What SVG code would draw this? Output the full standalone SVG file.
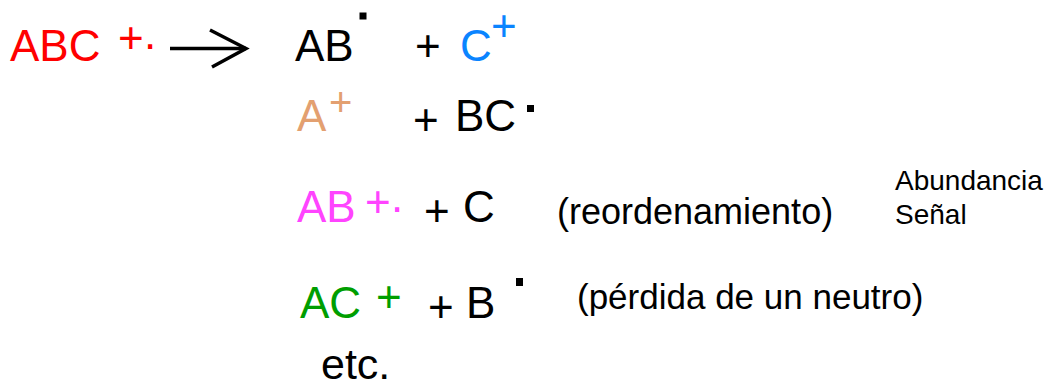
<svg xmlns="http://www.w3.org/2000/svg" width="1048" height="389" viewBox="0 0 1048 389">
<style>
text{font-family:"Liberation Sans",Arial,sans-serif;font-size:44px;fill:#000}
.red{fill:#FF0000}.blue{fill:#0A84FF}.tan{fill:#E3A070}.mag{fill:#FF44FF}.grn{fill:#009E00}
.sm{font-size:40px}.note{font-size:36px}.note2{font-size:35px}.lab{font-size:28px}.etc{font-size:43px}
.dot{fill:#000}
</style>
<rect width="1048" height="389" fill="#fff"/>
<g id="reactant">
<text x="10" y="61" class="red">ABC</text>
<text x="118" y="53" class="red">+</text>
<text x="144" y="49" class="red">.</text>
</g>
<g id="connectors">
<line x1="170" y1="48.5" x2="246" y2="48.5" stroke="#000" stroke-width="3.5"/>
<polyline points="210,30 246,48.5 212,67" fill="none" stroke="#000" stroke-width="3.5"/>
</g>
<g id="line1">
<text x="295" y="61">AB</text>
<rect class="dot" x="359.5" y="12.5" width="7" height="7"/>
<text x="415" y="61">+</text>
<text x="460" y="61" class="blue">C</text>
<text x="491" y="41" class="blue">+</text>
</g>
<g id="line2">
<text x="297" y="131" class="tan">A</text>
<text x="329" y="116" class="tan sm">+</text>
<text x="413" y="135">+</text>
<text x="455" y="131">BC</text>
<rect class="dot" x="527" y="105" width="7" height="7"/>
</g>
<g id="line3">
<text x="297" y="222" class="mag">AB</text>
<text x="365" y="217" class="mag">+</text>
<text x="391" y="212" class="mag">.</text>
<text x="424" y="226">+</text>
<text x="463" y="222">C</text>
<text x="557" y="224" class="note">(reordenamiento)</text>
<text x="895" y="190" class="lab">Abundancia</text>
<text x="895" y="224" class="lab">Señal</text>
</g>
<g id="line4">
<text x="300" y="318" class="grn">AC</text>
<text x="376" y="312" class="grn">+</text>
<text x="428" y="322">+</text>
<text x="466" y="318">B</text>
<rect class="dot" x="516" y="278" width="7" height="8"/>
<text x="577" y="309" class="note2">(pérdida de un neutro)</text>
</g>
<g id="etc">
<text x="321" y="379" class="etc">etc.</text>
</g>
</svg>
